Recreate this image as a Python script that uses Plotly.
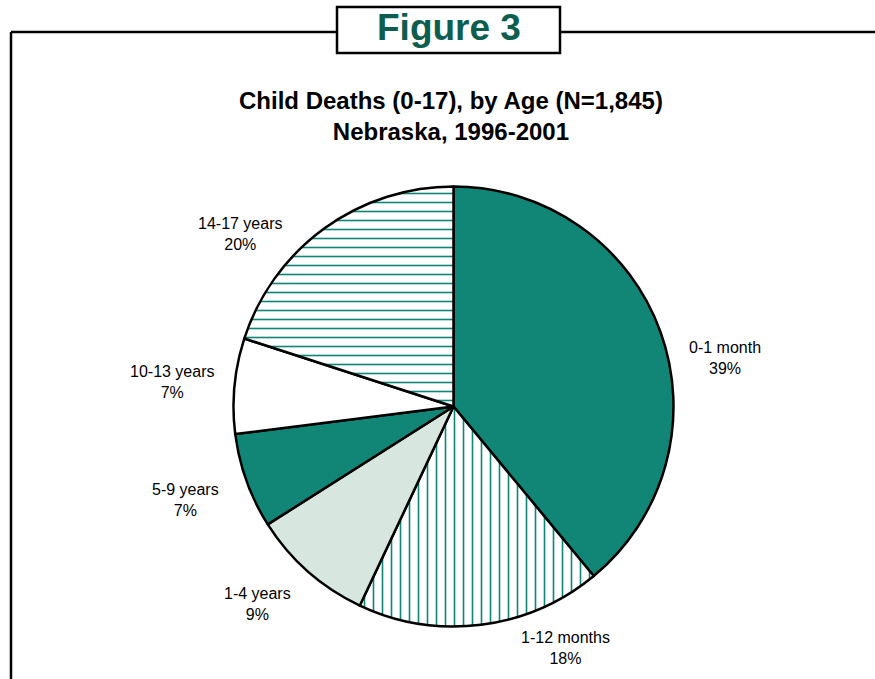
import plotly.graph_objects as go

# Age groups and their share of child deaths (percent)
age_groups = ["0-1 month", "1-12 months", "1-4 years", "5-9 years", "10-13 years", "14-17 years"]
shares = [39, 18, 9, 7, 7, 20]

TEAL = "#118677"
fill_colors = [TEAL, "white", "#D8E6E0", TEAL, "white", "white"]
pattern_shapes = ["", "|", "", "", "", "-"]

# Label anchor positions in pixels (x, y from top)
label_pos = [(725, 358), (565, 648), (257, 604), (185, 500), (172, 382), (240, 234)]

W, H = 875, 679


def px(x):
    return x / W


def py(y):
    return 1 - y / H


fig = go.Figure()
fig.add_trace(go.Pie(
    labels=age_groups,
    values=shares,
    sort=False,
    direction="clockwise",
    rotation=0,
    textinfo="none",
    hoverinfo="label+percent",
    showlegend=False,
    marker=dict(
        colors=fill_colors,
        line=dict(color="black", width=2.5),
        pattern=dict(
            shape=pattern_shapes,
            fgcolor=TEAL,
            bgcolor="white",
            size=9,
            solidity=0.18,
        ),
    ),
    domain=dict(x=[px(233.5), px(673.5)], y=[py(626.5), py(186.5)]),
))

annotations = []
for name, val, (lx, ly) in zip(age_groups, shares, label_pos):
    annotations.append(dict(
        x=px(lx), y=py(ly), xref="paper", yref="paper",
        text=f"{name}<br>{val}%", showarrow=False,
        font=dict(family="Liberation Sans, Arial", size=16, color="black"),
        xanchor="center", yanchor="middle", align="center",
    ))

annotations.append(dict(
    x=px(451), y=py(116), xref="paper", yref="paper",
    text="<b>Child Deaths (0-17), by Age (N=1,845)</b><br><b>Nebraska, 1996-2001</b>",
    showarrow=False, xanchor="center", yanchor="middle", align="center",
    font=dict(family="Liberation Sans, Arial", size=24, color="black"),
))

annotations.append(dict(
    x=px(448.5), y=py(28), xref="paper", yref="paper",
    text="<b>Figure 3</b>", showarrow=False, xanchor="center", yanchor="middle",
    font=dict(family="Liberation Sans, Arial", size=37, color="#0E5E50"),
))

shapes = [
    # outer frame
    dict(type="line", x0=px(11), y0=py(32), x1=px(337), y1=py(32),
         line=dict(color="black", width=2.5)),
    dict(type="line", x0=px(560), y0=py(32), x1=1, y1=py(32),
         line=dict(color="black", width=2.5)),
    dict(type="line", x0=px(11), y0=py(32), x1=px(11), y1=0,
         line=dict(color="black", width=2.5)),
    # caption box
    dict(type="rect", x0=px(337), y0=py(53), x1=px(560), y1=py(7),
         line=dict(color="black", width=2.5), fillcolor="white"),
]

for s in shapes:
    s.update(xref="paper", yref="paper")

fig.update_layout(
    width=W, height=H,
    margin=dict(l=0, r=0, t=0, b=0),
    paper_bgcolor="white",
    plot_bgcolor="white",
    annotations=annotations,
    shapes=shapes,
)

fig.write_html("out.html")
